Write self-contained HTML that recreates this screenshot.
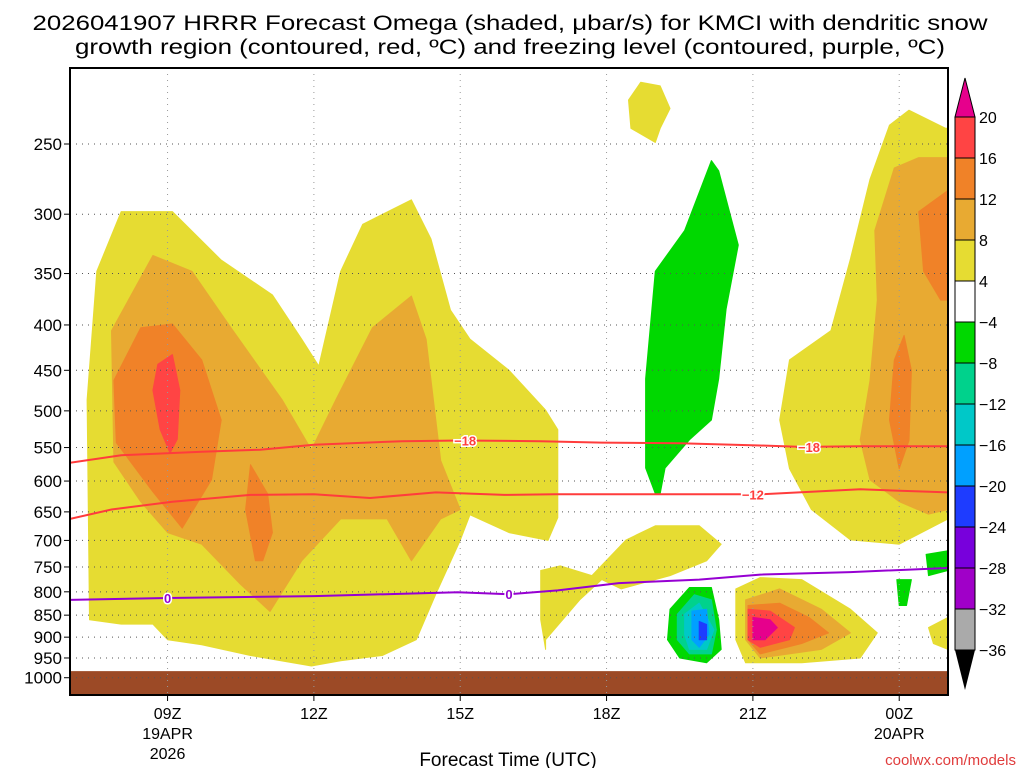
<!DOCTYPE html>
<html><head><meta charset="utf-8"><style>
body{margin:0;background:#fff;}
svg{display:block;font-family:"Liberation Sans","DejaVu Sans",sans-serif;}
</style></head><body>
<svg id="c" width="1024" height="768" viewBox="0 0 1024 768">
<text x="510" y="30" font-size="21" text-anchor="middle" textLength="955" lengthAdjust="spacingAndGlyphs">2026041907 HRRR Forecast Omega (shaded, μbar/s) for KMCI with dendritic snow</text>
<text x="510" y="54" font-size="21" text-anchor="middle" textLength="870" lengthAdjust="spacingAndGlyphs">growth region (contoured, red, ºC) and freezing level (contoured, purple, ºC)</text>
<g id="plot"></g>
</svg>
<script>
const hourMin=7,hourMax=25,pTop=205;
const xTicks=[9,12,15,18,21,24];
const xTickLabels=["09Z","12Z","15Z","18Z","21Z","00Z"];
const xTickSub=[["19APR","2026"],[],[],[],[],["20APR"]];
const pTicks=[250,300,350,400,450,500,550,600,650,700,750,800,850,900,950,1000];
const cbLevels=[20,16,12,8,4,-4,-8,-12,-16,-20,-24,-28,-32,-36];
const cbColors=["#ff4444","#f08228","#e8aa32","#e6dc32","#ffffff","#00d800","#00d28c","#00c8c8","#00a0ff","#1e3cff","#7800dc","#a000c8","#aaaaaa"];
const colorOf={y:"#e6dc32",g:"#e8aa32",o:"#f08228",r:"#ff4444",m:"#e6008c",gr:"#00d800",t:"#00d28c",c:"#00c8c8",b:"#00a0ff",db:"#1e3cff"};
// shaded regions: [colorKey, [[hour,pressure],...]]
const regions=[
["y",[[7.4,860],[7.35,486],[7.55,348],[8.05,298],[9.1,298],[10.1,338],[11.15,370],[11.75,415],[12.1,445],[12.55,348],[13,308],[14,289],[14.4,320],[14.8,385],[15.2,415],[16,450],[16.75,499],[17,525],[17,660],[16.8,700],[16,686],[15.2,655],[15,700],[14.5,805],[14.1,906],[13.4,944],[12.55,957],[11.95,970],[10.7,944],[9.7,918],[9,906],[8.7,870],[8.05,870]]],
["g",[[7.85,406],[8.7,334],[9.5,348],[10.3,403],[11.35,486],[11.95,553],[12.45,486],[13.2,403],[14,371],[14.3,415],[14.6,569],[15,646],[14.6,662],[14,738],[13.5,662],[12.55,662],[11.75,738],[11.1,842],[10.5,785],[9.7,707],[9,686],[8.45,633],[7.9,571]]],
["o",[[7.9,462],[8.45,403],[9.1,399],[9.7,438],[10.1,512],[9.9,598],[9.3,678],[8.7,617],[7.95,543]]],
["o",[[10.7,575],[11.05,620],[11.15,686],[10.95,738],[10.8,738],[10.6,646]]],
["r",[[8.8,443],[9.1,432],[9.25,474],[9.2,538],[9.05,558],[8.85,525],[8.7,474]]],
["y",[[18.45,223],[18.7,213],[19.1,215],[19.3,228],[19.1,240],[19,249],[18.5,240]]],
["gr",[[18.8,460],[19,348],[19.6,313],[20.15,261],[20.3,268],[20.7,325],[20.45,384],[20.3,460],[20.15,512],[19.7,539],[19.2,580],[19.1,620],[19,620],[18.8,580]]],
["y",[[21.75,438],[22.6,406],[23,337],[23.4,274],[23.8,238],[24.2,229],[24.95,240],[25,240],[25,662],[24,707],[23,699],[22.2,646],[21.75,581],[21.55,512]]],
["g",[[23.5,313],[23.9,266],[24.4,259],[25,259],[25,646],[24.6,654],[24,633],[23.4,598],[23.2,539],[23.4,462],[23.55,375]]],
["o",[[24.4,298],[25,282],[25,375],[24.85,375],[24.5,348]]],
["o",[[23.9,438],[24.1,411],[24.25,450],[24.2,540],[24,581],[23.8,512]]],
["y",[[16.65,757],[17.05,748],[17.7,767],[18.4,699],[19,674],[19.9,674],[20.35,707],[20.05,738],[19.3,767],[18.3,794],[17.9,775],[17.45,817],[16.75,906],[16.75,929],[16.65,860]]],
["y",[[20.65,794],[21.15,771],[22,775],[23,837],[23.55,890],[23.2,950],[22,962],[20.85,962],[20.65,906]]],
["g",[[20.85,817],[21.55,794],[22.4,837],[23,890],[22.4,929],[21.15,950],[20.85,906]]],
["o",[[20.9,829],[21.55,824],[22.15,855],[22.55,890],[22,915],[21.15,940],[20.9,906]]],
["r",[[20.9,837],[21.35,841],[21.85,878],[21.75,906],[21.15,924],[20.9,906]]],
["m",[[21,855],[21.35,860],[21.5,878],[21.25,906],[21,906]]],
["gr",[[24.55,726],[25,719],[25,757],[24.6,767]]],
["gr",[[23.95,775],[24.25,775],[24.15,829],[24,829]]],
["y",[[24.6,878],[25,855],[25,929],[24.7,915]]],
["gr",[[19.3,837],[19.7,791],[20.15,791],[20.3,860],[20.35,929],[20.05,962],[19.5,950],[19.25,906]]],
["t",[[19.45,848],[19.8,806],[20.15,817],[20.25,883],[20.15,940],[19.7,940],[19.45,906]]],
["c",[[19.6,848],[19.9,824],[20.2,883],[20.05,929],[19.7,929],[19.6,894]]],
["b",[[19.75,841],[20.05,837],[20.1,894],[19.9,924],[19.75,906]]],
["db",[[19.9,864],[20.05,871],[20.05,906],[19.9,906]]]
];
const tempM18H=[7,8.05,9.7,10.9,12,13.8,15,16.65,17.9,19.5,21.15,22,23.2,25];
const tempM18P=[572,561,556,553,546,541,540,541,543,544,547,549,548,548];
const tempM12H=[7,7.85,9.1,10.7,12,13.15,14.5,15.9,16.95,18.6,19.9,21.15,22.4,23.2,25];
const tempM12P=[662,646,633,622,621,627,618,622,621,621,621,621,616,613,618];
const frzH=[7,9,12,14.95,16,17,18.25,19.9,21.15,23,25];
const frzP=[817,813,809,801,805,797,782,775,765,760,752];
const X0=70,X1=948,Y0=68,Y1=695;
const lnTop=Math.log(pTop),lnBot=Math.log(1000);
function xs(h){return X0+(h-hourMin)/(hourMax-hourMin)*(X1-X0);}
function ys(p){return 144+385*Math.log(p/250);}
const NS="http://www.w3.org/2000/svg";
const g=document.getElementById('plot');
function mk(t,a,parent){const e=document.createElementNS(NS,t);for(const k in a)e.setAttribute(k,a[k]);(parent||g).appendChild(e);return e;}
const defs=mk('defs',{});const cp=mk('clipPath',{id:'clip'},defs);mk('rect',{x:X0,y:Y0,width:X1-X0,height:Y1-Y0},cp);
const body=mk('g',{'clip-path':'url(#clip)'});
regions.forEach((r,i)=>{
  const e=mk('polygon',{points:r[1].map(q=>xs(q[0]).toFixed(1)+','+ys(q[1]).toFixed(1)).join(' '),fill:colorOf[r[0]],'stroke':colorOf[r[0]],'stroke-width':1,'stroke-linejoin':'round'},body);
  
  
});
// ground
const gr=mk('rect',{x:X0,y:ys(983),width:X1-X0,height:Y1-ys(983),fill:'#9c4a26'},body);


// grid
xTicks.forEach(h=>{const e=mk('line',{x1:xs(h),x2:xs(h),y1:Y0,y2:Y1,stroke:'#999','stroke-dasharray':'1 5'},body);});
pTicks.forEach(p=>{const e=mk('line',{x1:X0,x2:X1,y1:ys(p),y2:ys(p),stroke:'#555','stroke-dasharray':'1 5'},body);});
function line(H,P,col,name){const e=mk('polyline',{points:H.map((h,i)=>xs(h).toFixed(1)+','+ys(P[i]).toFixed(1)).join(' '),fill:'none',stroke:col,'stroke-width':2},body);}
line(tempM18H,tempM18P,'#ff3c3c','temp-minus18-contour');
line(tempM12H,tempM12P,'#ff3c3c','temp-minus12-contour');
line(frzH,frzP,'#9600d2','freezing-level-contour');
function clab(t,h,p,col,name){mk('rect',{x:xs(h)-14,y:ys(p)-8,width:28,height:15,fill:'none'},body);const e=mk('text',{x:xs(h),y:ys(p)+5,'font-size':13,'font-weight':'bold','text-anchor':'middle',fill:col,stroke:'#fff','stroke-width':3,'paint-order':'stroke'},body);e.textContent=t;}
clab('−18',15.1,540,'#ff3c3c','label-minus18');
clab('−18',22.15,549,'#ff3c3c','label-minus18-right');
clab('−12',21.0,621,'#ff3c3c','label-minus12');
clab('0',9,813,'#9600d2','label-zero-left');
clab('0',16,805,'#9600d2','label-zero-mid');
// frame
const fr=mk('rect',{x:X0,y:Y0,width:X1-X0,height:Y1-Y0,fill:'none',stroke:'#000','stroke-width':2});
pTicks.forEach(p=>{mk('line',{x1:X0-6,x2:X0,y1:ys(p),y2:ys(p),stroke:'#000'});const t=mk('text',{x:X0-8,y:ys(p)+6,'font-size':17,'text-anchor':'end'});t.textContent=p;});
xTicks.forEach((h,i)=>{mk('line',{x1:xs(h),x2:xs(h),y1:Y1,y2:Y1+6,stroke:'#000'});[xTickLabels[i]].concat(xTickSub[i]).forEach((s,j)=>{const t=mk('text',{x:xs(h),y:719+j*20,'font-size':16,'text-anchor':'middle'});t.textContent=s;});});
const xt=mk('text',{x:508,y:766,'font-size':19,'text-anchor':'middle'});xt.textContent='Forecast Time (UTC)';
const cr=mk('text',{x:1016,y:765,'font-size':15,'text-anchor':'end',fill:'#e03c3c'});cr.textContent='coolwx.com/models';
// colorbar
const cbX=955,cbW=20,cbTop=117,cbStep=41;
cbColors.forEach((c,i)=>{const e=mk('rect',{x:cbX,y:cbTop+i*cbStep,width:cbW,height:cbStep,fill:c,stroke:'#000','stroke-width':1});});
const ta=mk('polygon',{points:`${cbX},${cbTop} ${cbX+cbW},${cbTop} ${cbX+cbW/2},78`,fill:'#e6008c',stroke:'#000'});
const bEnd=cbTop+cbColors.length*cbStep;
const ba=mk('polygon',{points:`${cbX},${bEnd} ${cbX+cbW},${bEnd} ${cbX+cbW/2},690`,fill:'#000'});
cbLevels.forEach((v,i)=>{const t=mk('text',{x:979,y:cbTop+i*cbStep+6,'font-size':16});t.textContent=v<0?'−'+(-v):v;});
</script>
</body></html>
